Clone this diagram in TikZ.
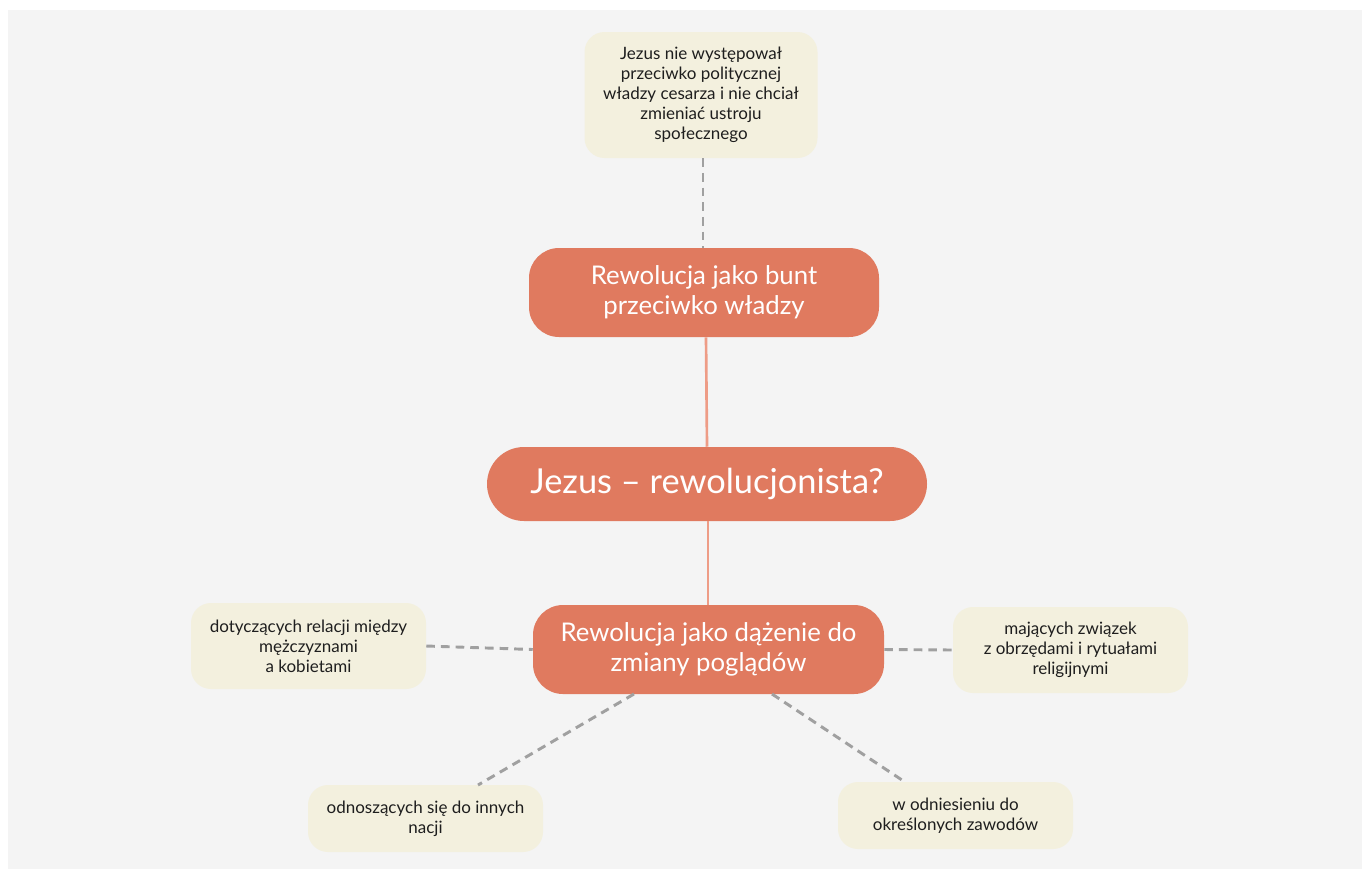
\documentclass[tikz,border=0pt]{standalone}
\usepackage{fontspec}
\setmainfont{Lato}
\begin{document}
\begin{tikzpicture}[x=0.75pt,y=-0.75pt,
  salmonbox/.style={fill=salmon,draw=none,rounded corners=30*0.75pt,text=white,align=center,inner sep=0pt},
  creambox/.style={fill=cream,draw=none,rounded corners=20*0.75pt,text=textdark,align=center,inner sep=0pt,font=\fontsize{12.75pt}{15pt}\selectfont},
  dashlink/.style={draw=linegray,line width=2.2pt,dash pattern=on 6.5pt off 4.5pt},
  solidlink/.style={draw=linksalmon,line width=2pt}]
\definecolor{salmon}{HTML}{E07A5F}
\definecolor{linksalmon}{HTML}{EE9C86}
\definecolor{cream}{HTML}{F3F0DE}
\definecolor{bg}{HTML}{F4F4F4}
\definecolor{linegray}{HTML}{A0A0A0}
\definecolor{textdark}{HTML}{1E1E1E}
\useasboundingbox (0,0) rectangle (1362,868);
\fill[bg] (8,10) rectangle (1375,880);

\node[creambox,minimum width=233*0.75pt,minimum height=126*0.75pt] (top) at (701,95)
  {Jezus nie występował\\przeciwko politycznej\\władzy cesarza i nie chciał\\zmieniać ustroju\\społecznego};
\node[salmonbox,minimum width=350*0.75pt,minimum height=89*0.75pt,font=\fontsize{19.3pt}{22.5pt}\selectfont] (bunt) at (704,292.5)
  {Rewolucja jako bunt\\przeciwko władzy};
\node[salmonbox,rounded corners=37*0.75pt,minimum width=440*0.75pt,minimum height=74*0.75pt,font=\fontsize{25.8pt}{30pt}\selectfont] (main) at (707,484)
  {Jezus – rewolucjonista?};
\node[salmonbox,minimum width=351*0.75pt,minimum height=89*0.75pt,font=\fontsize{19.3pt}{22.5pt}\selectfont] (dazenie) at (708.5,649.5)
  {Rewolucja jako dążenie do\\zmiany poglądów};
\node[creambox,minimum width=235*0.75pt,minimum height=86*0.75pt] (left) at (308.5,646)
  {dotyczących relacji między\\mężczyznami\\a kobietami};
\node[creambox,minimum width=235*0.75pt,minimum height=86*0.75pt] (right) at (1070.5,650)
  {mających związek\\z obrzędami i rytuałami\\religijnymi};
\node[creambox,minimum width=235*0.75pt,minimum height=67*0.75pt] (bl) at (425.5,818.5)
  {odnoszących się do innych\\nacji};
\node[creambox,minimum width=235*0.75pt,minimum height=67*0.75pt] (br) at (955.5,815.5)
  {w odniesieniu do\\określonych zawodów};

\coordinate (blend) at (478,785);
\coordinate (brend) at (905,782);
\coordinate (blstart) at (634,694);
\coordinate (brstart) at (772,694);

\draw[dashlink] (top.south -| 703,0) -- (bunt.north -| 703,0);
\draw[solidlink] (bunt.south -| 706,0) -- (main.north -| 707,0);
\draw[solidlink] (main.south -| 708,0) -- (dazenie.north -| 708,0);
\draw[dashlink] (left.east) -- (dazenie.west);
\draw[dashlink] (dazenie.east) -- (right.west);
\draw[dashlink] (blstart) -- (blend);
\draw[dashlink] (brstart) -- (brend);
\end{tikzpicture}
\end{document}
